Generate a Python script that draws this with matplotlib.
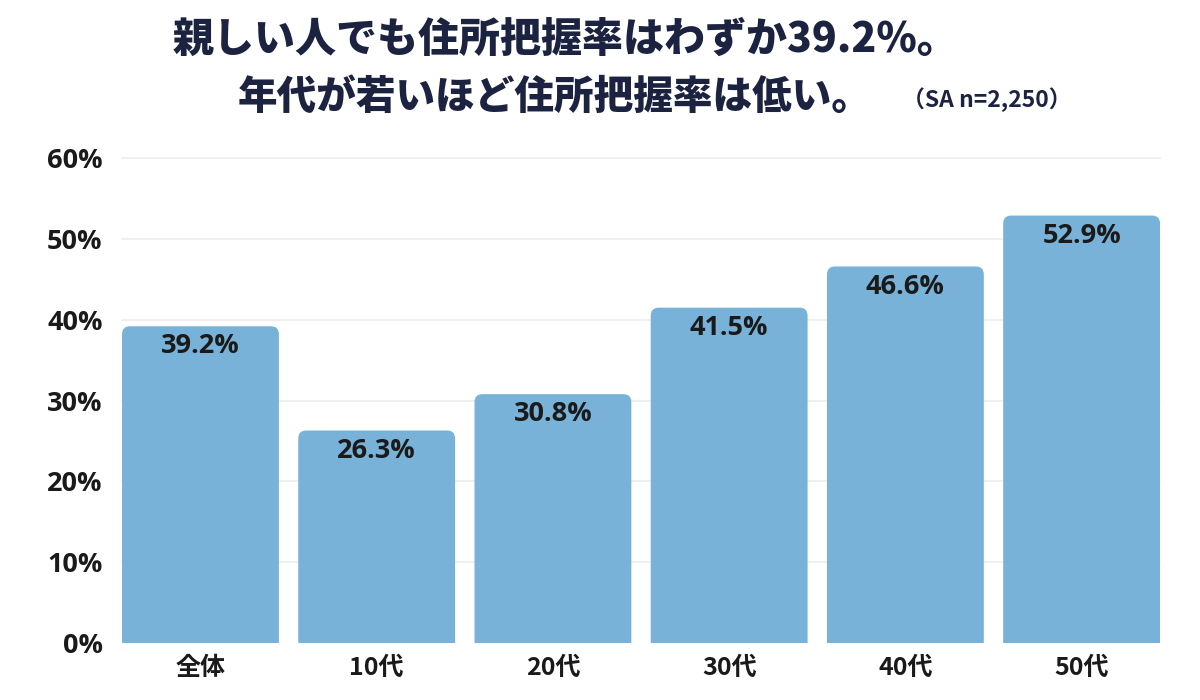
import matplotlib
matplotlib.use("Agg")
import matplotlib.pyplot as plt
from matplotlib.patches import FancyBboxPatch

plt.rcParams['font.family'] = ['Noto Sans CJK JP', 'DejaVu Sans']
NUM_FONT = ['Open Sans', 'Noto Sans CJK JP']

# data
categories = ['全体', '10代', '20代', '30代', '40代', '50代']
values = [39.2, 26.3, 30.8, 41.5, 46.6, 52.9]
yticks = [0, 10, 20, 30, 40, 50, 60]
title_1 = '親しい人でも住所把握率はわずか39.2%。'
title_2 = '年代が若いほど住所把握率は低い。'
note = '（SA n=2,250）'

BAR = '#78b2d8'
TXT = '#1a1a1a'
NAVY = '#1c2340'

fig = plt.figure(figsize=(12, 7), dpi=100)
ax = fig.add_axes([0.1017, 0.0814, 0.865, 0.6926])

x = range(len(categories))
bars = ax.bar(x, values, width=0.89, color=BAR, alpha=0)

# rounded tops: redraw each bar as a rounded box that starts below 0
# (the bottom corners get clipped by the axes)
for b in bars:
    x0, w, h = b.get_x(), b.get_width(), b.get_height()
    patch = FancyBboxPatch((x0, -3), w, h + 3,
                           boxstyle='round,pad=0,rounding_size=0.045',
                           mutation_aspect=22,
                           facecolor=BAR, edgecolor='none', zorder=2)
    ax.add_patch(patch)
    ax.text(x0 + w / 2, h - 2.5, f'{h:.1f}%', ha='center',
            va='center', fontsize=19.5, fontweight='bold', color=TXT,
            family=NUM_FONT, zorder=3)

ax.set_xlim(-0.445, len(categories) - 0.555)
ax.set_ylim(0, 60)
ax.set_yticks(yticks)
ax.set_yticklabels([f'{t}%' for t in yticks], fontsize=19.5,
                   fontweight='bold', color=TXT, family=NUM_FONT)
ax.set_xticks(list(x))
ax.set_xticklabels(categories, fontsize=18, fontweight='bold', color=TXT)
ax.tick_params(length=0)
ax.tick_params(axis='y', pad=14)
ax.tick_params(axis='x', pad=9)
for t in yticks[1:]:
    ax.axhline(t, color='#ececec', lw=1.2, zorder=1, clip_on=False)
for s in ax.spines.values():
    s.set_visible(False)

fig.text(0.4715, 0.943, title_1, ha='center', va='center', fontsize=29.5,
         fontweight='heavy', color=NAVY)
fig.text(0.4625, 0.861, title_2, ha='center', va='center', fontsize=28.5,
         fontweight='heavy', color=NAVY)
fig.text(0.8225, 0.857, note, ha='center', va='center', fontsize=16.5,
         fontweight='bold', color=NAVY)

fig.savefig('out.png', dpi=100)
